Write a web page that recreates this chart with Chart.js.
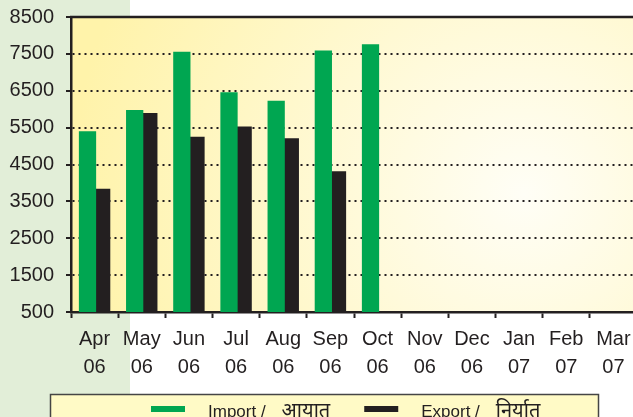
<!DOCTYPE html>
<html>
<head>
<meta charset="utf-8">
<script src="https://cdn.jsdelivr.net/npm/chart.js@4"></script>
<style>
  html, body { margin: 0; padding: 0; overflow: hidden; background: #fff; }
  #wrap { width: 645px; height: 430px; }
</style>
</head>
<body>
<div id="wrap"><canvas id="tradeChart" width="645" height="430"></canvas></div>
<script>
// monthly trade, Apr 06 - Mar 07
const months = ['Apr', 'May', 'Jun', 'Jul', 'Aug', 'Sep', 'Oct', 'Nov', 'Dec', 'Jan', 'Feb', 'Mar'];
const years = ['06', '06', '06', '06', '06', '06', '06', '06', '06', '07', '07', '07'];
const importValues = [5400, 5980, 7560, 6460, 6230, 7590, 7760, null, null, null, null, null];
const exportValues = [3840, 5900, 5250, 5530, 5210, 4320, null, null, null, null, null, null];
const seriesLabels = ['Import / आयात', 'Export / निर्यात'];
const yTicks = [500, 1500, 2500, 3500, 4500, 5500, 6500, 7500, 8500];

const INK = '#231f20';
const LATIN = '"Liberation Sans", Arial, sans-serif';
const DEVA = '"Noto Sans Devanagari", "Noto Sans", FreeSans, sans-serif';

const backdrop = {
    id: 'backdrop',
    beforeDraw(chart) {
        const ctx = chart.ctx;
        const a = chart.chartArea;
        ctx.save();
        ctx.fillStyle = '#ffffff';
        ctx.fillRect(0, 0, chart.width, chart.height);
        ctx.fillStyle = '#e2eed8';
        ctx.fillRect(0, 0, 130, chart.height);
        const g = ctx.createRadialGradient(a.left + a.width * 0.8, a.top + a.height * 0.6, 0,
                                           a.left + a.width * 0.8, a.top + a.height * 0.6, a.width * 0.8);
        g.addColorStop(0, '#fffef6');
        g.addColorStop(1, '#fff3aa');
        ctx.fillStyle = g;
        ctx.fillRect(a.left, a.top, a.right - a.left, a.bottom - a.top);
        ctx.restore();
    },
    afterDraw(chart) {
        const ctx = chart.ctx;
        const a = chart.chartArea;
        ctx.save();
        // solid frame line along the top
        ctx.strokeStyle = INK;
        ctx.lineWidth = 2.5;
        ctx.beginPath();
        ctx.moveTo(a.left - 1, a.top);
        ctx.lineTo(a.right, a.top);
        ctx.stroke();

        // legend panel
        ctx.fillStyle = '#fffac6';
        ctx.strokeStyle = '#454545';
        ctx.lineWidth = 1.5;
        ctx.fillRect(50.5, 394.5, 548, 40);
        ctx.strokeRect(50.5, 394.5, 548, 40);

        let x = 151;
        ctx.textBaseline = 'alphabetic';
        chart.data.datasets.forEach(ds => {
            const parts = ds.label.split(' / ');
            ctx.fillStyle = ds.backgroundColor;
            ctx.fillRect(x, 406, 34, 6);
            x += 34 + 23;
            ctx.fillStyle = INK;
            ctx.font = '17px ' + LATIN;
            ctx.fillText(parts[0] + ' /', x, 417);
            x += ctx.measureText(parts[0] + ' /').width + 16;
            ctx.font = '20px ' + DEVA;
            ctx.fillText(parts[1], x, 417);
            x += ctx.measureText(parts[1]).width + 34;
        });
        ctx.restore();
    }
};

new Chart(document.getElementById('tradeChart'), {
    type: 'bar',
    data: {
        labels: months.map((m, i) => [m, years[i]]),
        datasets: [
            { label: seriesLabels[0], data: importValues, backgroundColor: '#00a651' },
            { label: seriesLabels[1], data: exportValues, backgroundColor: INK }
        ]
    },
    options: {
        responsive: false,
        animation: false,
        layout: { padding: { top: 17, right: 8, left: 0, bottom: 0 } },
        datasets: {
            bar: { categoryPercentage: 0.6, barPercentage: 1.22 }
        },
        plugins: {
            legend: { display: false },
            tooltip: { enabled: false }
        },
        scales: {
            x: {
                afterFit(scale) { scale.height = 118; },
                grid: {
                    drawOnChartArea: false,
                    tickLength: 6,
                    tickColor: INK,
                    tickWidth: 2
                },
                border: { color: INK, width: 2.5 },
                ticks: {
                    color: INK,
                    padding: 7,
                    maxRotation: 0,
                    font: { family: LATIN, size: 20, lineHeight: 1.4 }
                }
            },
            y: {
                min: 500,
                max: 8500,
                afterFit(scale) {
                    scale.width = 71;
                    scale.paddingTop = 0;
                    scale.paddingBottom = 0;
                },
                afterBuildTicks(scale) { scale.ticks = yTicks.map(v => ({ value: v })); },
                grid: {
                    color: INK,
                    lineWidth: 2,
                    tickLength: 5,
                    tickColor: INK,
                    tickWidth: 2,
                    tickBorderDash: []
                },
                border: { color: INK, width: 2.5, dash: [2, 4] },
                ticks: {
                    color: INK,
                    padding: 12,
                    callback: v => String(v),
                    font: { family: LATIN, size: 20 }
                }
            }
        }
    },
    plugins: [backdrop]
});
</script>
</body>
</html>
